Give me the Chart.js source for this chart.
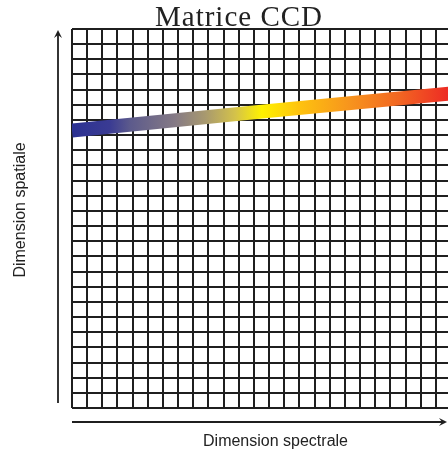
<!DOCTYPE html>
<html>
<head>
<meta charset="utf-8">
<script src="https://cdn.jsdelivr.net/npm/chart.js@4/dist/chart.umd.min.js"></script>
<style>
  html, body { margin: 0; padding: 0; background: #fff; }
  canvas { display: block; }
</style>
</head>
<body>
<canvas id="ccd" width="448" height="453"></canvas>
<script>
// Textes
const titre = 'Matrice CCD';
const labelX = 'Dimension spectrale';
const labelY = 'Dimension spatiale';

// Grille du capteur (en pixels CCD)
const nbLignes = 25;
const colonnesVisibles = 24.8;

// Trace du spectre sur la matrice
const spectreX = [0, 12, 25];
const spectreY = [18.3, 19.5, 20.75];

// Couleurs le long du spectre (bleu -> rouge)
const spectrePositions = [0, 0.1, 0.154, 0.274, 0.354, 0.434, 0.505, 0.606, 0.739, 0.872, 1];
const spectreCouleurs = ['#2b3192', '#3a3b93', '#5c5a8c', '#857a85', '#a8996f', '#d4c24a', '#fff200', '#fec20f', '#f7941d', '#f26522', '#ed2b24'];

const couleurTrait = '#1f1f1f';

document.addEventListener('DOMContentLoaded', function() {
    const ctx = document.getElementById('ccd').getContext('2d');

    // fleches, titre et libelles d'axes
    const decor = {
        id: 'decor',
        afterDraw(chart) {
            const c = chart.ctx;
            const area = chart.chartArea;
            c.save();
            c.strokeStyle = couleurTrait;
            c.fillStyle = couleurTrait;
            c.lineWidth = 1.8;

            // fleche verticale
            const xv = area.left - 14;
            c.beginPath();
            c.moveTo(xv, area.bottom - 5);
            c.lineTo(xv, area.top + 4);
            c.stroke();
            c.beginPath();
            c.moveTo(xv, area.top + 1);
            c.lineTo(xv - 4, area.top + 9);
            c.lineTo(xv, area.top + 6);
            c.lineTo(xv + 4, area.top + 9);
            c.closePath();
            c.fill();

            // fleche horizontale
            const yh = area.bottom + 14;
            c.beginPath();
            c.moveTo(area.left, yh);
            c.lineTo(area.right - 4, yh);
            c.stroke();
            c.beginPath();
            c.moveTo(area.right - 1, yh);
            c.lineTo(area.right - 9, yh - 4);
            c.lineTo(area.right - 6, yh);
            c.lineTo(area.right - 9, yh + 4);
            c.closePath();
            c.fill();

            // titre
            c.fillStyle = '#222';
            c.font = '29px "Liberation Serif", "DejaVu Serif", serif';
            c.letterSpacing = '1px';
            c.textAlign = 'center';
            c.textBaseline = 'alphabetic';
            c.fillText(titre, 239, 26);
            c.letterSpacing = '0px';

            // libelles
            c.font = '16px "Liberation Sans", Arial, sans-serif';
            c.fillText(labelX, 275.5, 446);
            c.translate(25, 210);
            c.rotate(-Math.PI / 2);
            c.fillText(labelY, 0, 0);
            c.restore();
        }
    };

    new Chart(ctx, {
        type: 'line',
        data: {
            datasets: [{
                data: spectreX.map((x, i) => ({ x: x, y: spectreY[i] })),
                borderWidth: 14,
                borderCapStyle: 'butt',
                pointRadius: 0,
                tension: 0,
                borderColor: function(context) {
                    const area = context.chart.chartArea;
                    if (!area) return spectreCouleurs[0];
                    const g = context.chart.ctx.createLinearGradient(area.left, 0, area.right, 0);
                    spectrePositions.forEach((p, i) => g.addColorStop(p, spectreCouleurs[i]));
                    return g;
                }
            }]
        },
        options: {
            responsive: false,
            animation: false,
            devicePixelRatio: 1,
            layout: {
                padding: { left: 72, top: 29, right: 0, bottom: 45 }
            },
            plugins: {
                legend: { display: false },
                tooltip: { enabled: false },
                title: { display: false }
            },
            scales: {
                x: {
                    type: 'linear',
                    min: 0,
                    max: colonnesVisibles,
                    ticks: { display: false, stepSize: 1, includeBounds: false },
                    grid: { color: couleurTrait, lineWidth: 2, drawTicks: false },
                    border: { display: false }
                },
                y: {
                    type: 'linear',
                    min: 0,
                    max: nbLignes,
                    ticks: { display: false, stepSize: 1 },
                    grid: { color: couleurTrait, lineWidth: 2, drawTicks: false },
                    border: { display: false }
                }
            }
        },
        plugins: [decor]
    });
});
</script>
</body>
</html>
